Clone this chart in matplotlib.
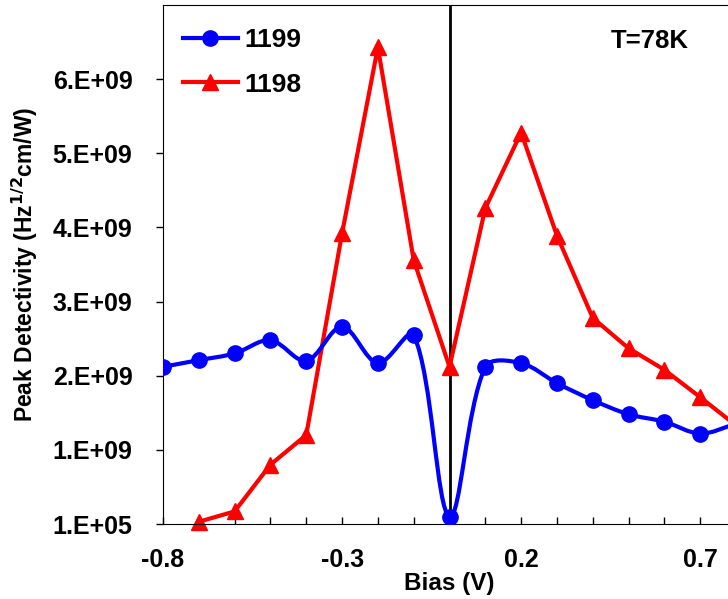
import matplotlib
matplotlib.use("Agg")
import matplotlib.pyplot as plt
import numpy as np
from matplotlib.path import Path
from matplotlib.patches import PathPatch
from matplotlib.lines import Line2D

plt.rcParams['font.family'] = ['Liberation Sans', 'DejaVu Sans']
plt.rcParams['font.weight'] = 'bold'

# bias (V) and peak detectivity values
bias_1199 = [-0.8, -0.7, -0.6, -0.5, -0.4, -0.3, -0.2, -0.1, 0.0, 0.1, 0.2, 0.3, 0.4, 0.5, 0.6, 0.7, 0.8]
det_1199 = [2.12e9, 2.21e9, 2.30e9, 2.48e9, 2.20e9, 2.66e9, 2.17e9, 2.55e9, 0.10e9,
            2.12e9, 2.17e9, 1.90e9, 1.67e9, 1.48e9, 1.38e9, 1.22e9, 1.35e9]
bias_1198 = [-0.7, -0.6, -0.5, -0.4, -0.3, -0.2, -0.1, 0.0, 0.1, 0.2, 0.3, 0.4, 0.5, 0.6, 0.7, 0.8]
det_1198 = [0.03e9, 0.17e9, 0.80e9, 1.20e9, 3.92e9, 6.43e9, 3.56e9, 2.12e9, 4.26e9,
            5.28e9, 3.89e9, 2.78e9, 2.37e9, 2.08e9, 1.71e9, 1.33e9]

y_ticks = [0, 1e9, 2e9, 3e9, 4e9, 5e9, 6e9]
y_tick_labels = ['1.E+05', '1.E+09', '2.E+09', '3.E+09', '4.E+09', '5.E+09', '6.E+09']
x_ticks = [-0.8, -0.3, 0.2, 0.7]
x_tick_labels = ['-0.8', '-0.3', '0.2', '0.7']

blue = '#0000ff'
red = '#ff0000'


def smooth_path(xs, ys, sx=358.0, sy=74.2e-9):
    # excel-like smoothed line: cubic bezier, tangents weighted by segment length on screen
    p = np.column_stack([np.asarray(xs) * sx, np.asarray(ys) * sy])
    n = len(p)
    d = np.hypot(*np.diff(p, axis=0).T)
    c_in = [None] * n
    c_out = [None] * n
    for i in range(n):
        prev = p[i - 1] if i > 0 else p[i]
        nxt = p[i + 1] if i < n - 1 else p[i]
        t = nxt - prev
        dp = d[i - 1] if i > 0 else 0.0
        dn = d[i] if i < n - 1 else 0.0
        tot = dp + dn
        c_out[i] = p[i] + t * (dn / tot) / 3.0
        c_in[i] = p[i] - t * (dp / tot) / 3.0
    verts = [p[0]]
    codes = [Path.MOVETO]
    for i in range(n - 1):
        verts += [c_out[i], c_in[i + 1], p[i + 1]]
        codes += [Path.CURVE4] * 3
    verts = np.array(verts) / [sx, sy]
    return Path(verts, codes)


fig = plt.figure(figsize=(7.28, 5.99), dpi=100)
ax = fig.add_axes([163 / 728, 75 / 599, 573 / 728, 519 / 599])

ax.axvline(0, color='black', lw=2, zorder=1)

ax.add_patch(PathPatch(smooth_path(bias_1199, det_1199), facecolor='none',
                       edgecolor=blue, lw=3, zorder=3))
ax.plot(bias_1199, det_1199, ls='none', marker='o', ms=11, color=blue, zorder=4)
ax.plot(bias_1198, det_1198, color=red, lw=3, marker='^', ms=12, zorder=2, clip_on=False)

ax.set_xlim(-0.8, 0.8)
ax.set_ylim(0, 7e9)
ax.set_xticks(x_ticks)
ax.set_xticklabels(x_tick_labels, fontsize=18, fontweight='bold')
ax.set_xticks(np.arange(-0.8, 0.81, 0.1), minor=True)
ax.set_yticks(y_ticks)
ax.set_yticklabels(y_tick_labels, fontsize=18, fontweight='bold')
ax.tick_params(axis='x', which='both', direction='in', length=5, width=1, pad=17)
ax.tick_params(axis='y', direction='out', length=5, width=1, pad=17)
ax.spines['right'].set_visible(False)

ax.set_xlabel('Bias (V)', fontsize=17.5, fontweight='bold', labelpad=0)
ax.set_ylabel(r'Peak Detectivity (Hz$^{\mathbf{1/2}}$cm/W)', fontsize=16.5,
              fontweight='bold', labelpad=9)

ax.text(0.56, 6.52e9, 'T=78K', fontsize=18.5, fontweight='bold', ha='center', va='center')

handles = [Line2D([], [], color=blue, lw=3, marker='o', ms=11),
           Line2D([], [], color=red, lw=3, marker='^', ms=12)]
ax.legend(handles, ['1199', '1198'], loc='upper left', frameon=False,
          prop={'size': 19, 'weight': 'bold'}, handlelength=2.1, handletextpad=0.25,
          labelspacing=0.78, borderaxespad=0.0, bbox_to_anchor=(0.0157, 0.976))

fig.savefig('out.png', dpi=100)
